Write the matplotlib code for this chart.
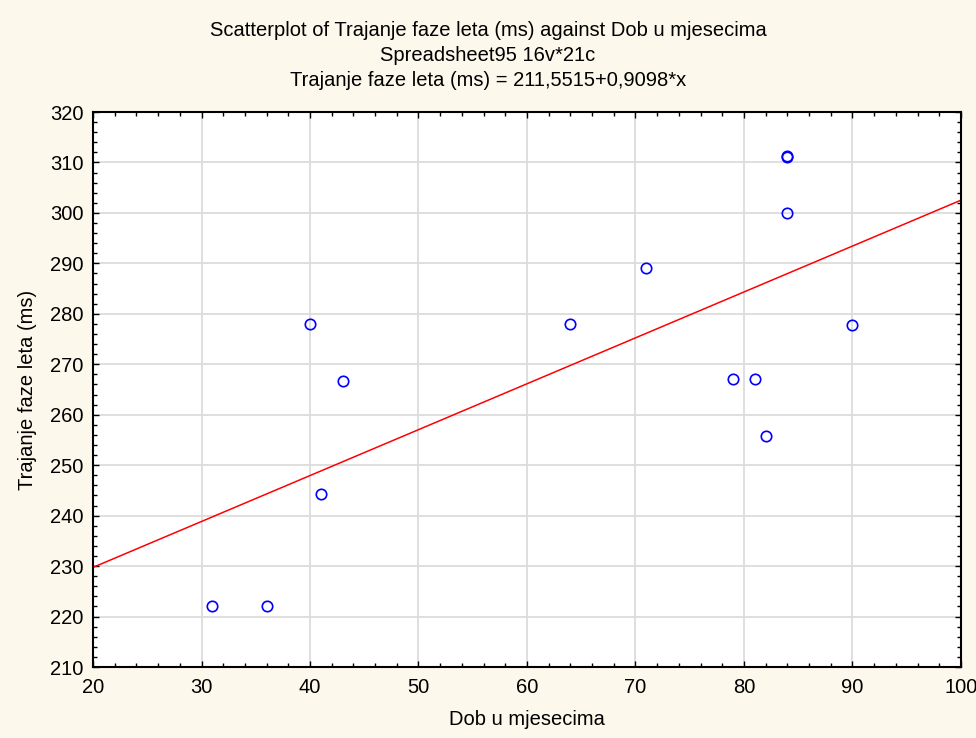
import matplotlib
matplotlib.use("Agg")
import matplotlib.pyplot as plt
from matplotlib.ticker import MultipleLocator

# Data
dob = [31, 36, 40, 41, 43, 64, 71, 79, 81, 82, 84, 84, 84, 90]
trajanje = [222, 222, 278, 244.3, 266.7, 278, 289, 267, 267, 255.7, 311, 311.3, 300, 277.7]

# Regression line from the subtitle
intercept = 211.5515
slope = 0.9098
x_line = [20, 100]

plt.rcParams["font.family"] = ["Liberation Sans", "DejaVu Sans"]

bg = "#fdf8ec"
fs = 14.5
fig = plt.figure(figsize=(9.76, 7.38), dpi=100, facecolor=bg)
ax = fig.add_axes([0.0953, 0.0962, 0.8893, 0.752])
ax.set_facecolor("white")

ax.grid(True, which="major", color="#dcdcdc", linewidth=1.3, zorder=0)
ax.plot(x_line, [intercept + slope * x for x in x_line], color="red", linewidth=1.1, zorder=2)
ax.plot(dob, trajanje, linestyle="none", marker="o", markersize=7.5,
        markerfacecolor="none", markeredgecolor="blue", markeredgewidth=1.2, zorder=3)

ax.set_xlim(20, 100)
ax.set_ylim(210, 320)
ax.xaxis.set_major_locator(MultipleLocator(10))
ax.xaxis.set_minor_locator(MultipleLocator(2))
ax.yaxis.set_major_locator(MultipleLocator(10))
ax.yaxis.set_minor_locator(MultipleLocator(2))
ax.tick_params(which="both", direction="in", top=True, right=True, color="black")
ax.tick_params(which="major", length=4, width=1, labelsize=fs)
ax.tick_params(axis="x", which="major", pad=8)
ax.tick_params(axis="y", which="major", pad=7)
ax.tick_params(which="minor", length=3, width=1)
for s in ax.spines.values():
    s.set_linewidth(1.5)
    s.set_color("black")

ax.set_xlabel("Dob u mjesecima", fontsize=fs, labelpad=9)
ax.set_ylabel("Trajanje faze leta (ms)", fontsize=fs, labelpad=9)

fig.text(0.5, 0.958, "Scatterplot of Trajanje faze leta (ms) against Dob u mjesecima",
         ha="center", va="center", fontsize=fs)
fig.text(0.5, 0.925, "Spreadsheet95 16v*21c", ha="center", va="center", fontsize=fs)
fig.text(0.5, 0.891, "Trajanje faze leta (ms) = 211,5515+0,9098*x",
         ha="center", va="center", fontsize=fs)

fig.savefig("out.png", dpi=100, facecolor=bg)
